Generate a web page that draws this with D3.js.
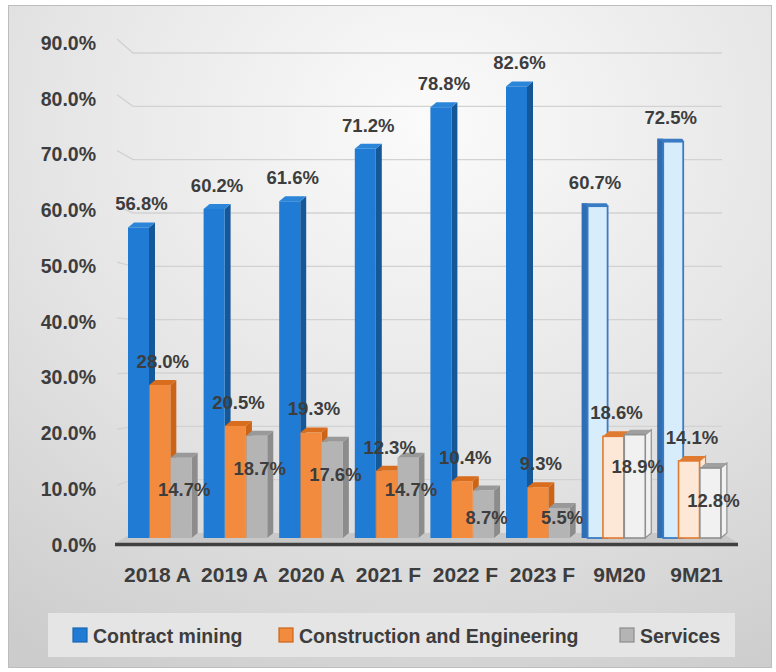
<!DOCTYPE html>
<html>
<head>
<meta charset="utf-8">
<script src="https://cdn.jsdelivr.net/npm/d3@7"></script>
<style>
  html, body { margin: 0; padding: 0; background: #ffffff; }
  svg { display: block; }
  text { font-family: "Liberation Sans", Arial, sans-serif; font-weight: bold; fill: #3d3d3d; }
</style>
</head>
<body>
<svg id="chart" width="776" height="672"></svg>
<script>
// ---- data ----
const categories = ["2018 A", "2019 A", "2020 A", "2021 F", "2022 F", "2023 F", "9M20", "9M21"];
const seriesNames = ["Contract mining", "Construction and Engineering", "Services"];
const contractMining = [56.8, 60.2, 61.6, 71.2, 78.8, 82.6, 60.7, 72.5];
const constructionEngineering = [28.0, 20.5, 19.3, 12.3, 10.4, 9.3, 18.6, 14.1];
const services = [14.7, 18.7, 17.6, 14.7, 8.7, 5.5, 18.9, 12.8];
const yTickValues = [0, 10, 20, 30, 40, 50, 60, 70, 80, 90];
const interimCategories = ["9M20", "9M21"];

// ---- styles ----
const solid = {
  "Contract mining": { front: "#1f7bd3", side: "#15589a", top: "#2b86da" },
  "Construction and Engineering": { front: "#f28b3e", side: "#cc6418", top: "#d86d1e" },
  "Services": { front: "#b4b4b4", side: "#8c8c8c", top: "#999999" }
};
const light = {
  "Contract mining": { front: "#d8edfc", side: "#2f6db5", top: "#3a7cc4", stroke: "#3a7cc4" },
  "Construction and Engineering": { front: "#fde8d8", side: "#e07a30", top: "#e07a30", stroke: "#e07a30" },
  "Services": { front: "#f1f1f1", side: "#9a9a9a", top: "#a0a0a0", stroke: "#909090" }
};

const svg = d3.select("#chart");
const defs = svg.append("defs");
const grad = defs.append("radialGradient").attr("id", "bg")
  .attr("cx", "55%").attr("cy", "18%").attr("r", "95%");
grad.append("stop").attr("offset", "0%").attr("stop-color", "#fbfbfb");
grad.append("stop").attr("offset", "55%").attr("stop-color", "#e4e4e4");
grad.append("stop").attr("offset", "100%").attr("stop-color", "#cccccc");

// frame
svg.append("rect").attr("x", 8.5).attr("y", 5.5).attr("width", 763).attr("height", 662)
  .attr("fill", "url(#bg)").attr("stroke", "#bdbdbd").attr("stroke-width", 1);

// ---- scales ----
const xBar = d3.scaleBand().domain(categories).range([128, 732.8]).padding(0);
const xSeries = d3.scaleBand().domain(seriesNames).range([0, 64]).padding(0);
const xLabel = d3.scaleBand().domain(categories).range([119, 735]).padding(0);
const yBar = d3.scaleLinear().domain([0, 90]).range([538, 46]);
const yAxisLbl = d3.scaleLinear().domain([0, 90]).range([545, 43]);
const yWall = d3.scaleLinear().domain([0, 90]).range([533, 53]);

const barW = 21, dx = 6, dy = 5;

// gridlines (back wall + side wall slant)
const grid = svg.append("g");
yTickValues.filter(v => v > 0).forEach(v => {
  grid.append("path")
    .attr("d", d3.line()([[117, yAxisLbl(v) - 4], [133, yWall(v)], [722, yWall(v)]]))
    .attr("fill", "none").attr("stroke", "#d2d2d2").attr("stroke-width", 1.4);
});

// floor
svg.append("path")
  .attr("d", d3.line()([[115, 543], [738, 543], [722, yWall(0)], [133, yWall(0)]]) + "Z")
  .attr("fill", "#c8c8c8");

// y axis labels
const yAxis = svg.append("g").attr("transform", "translate(96,0)")
  .call(d3.axisLeft(yAxisLbl).tickValues(yTickValues).tickSize(0).tickPadding(0)
    .tickFormat(d => d.toFixed(1) + "%"));
yAxis.select(".domain").remove();
yAxis.selectAll("text").style("font-size", "19.5px").attr("fill", "#3d3d3d")
  .style("font-family", "'Liberation Sans', Arial, sans-serif").style("font-weight", "bold");

// bars
const seriesValues = [contractMining, constructionEngineering, services];
const bars = svg.append("g");
const labels = [];
categories.forEach((cat, i) => {
  const isInterim = interimCategories.includes(cat);
  seriesNames.forEach((s, si) => {
    const v = seriesValues[si][i];
    const x = xBar(cat) + xSeries(s);
    const top = yBar(v), bottom = yBar(0);
    const g = bars.append("g");
    if (isInterim && si === 0) {
      const c = light[s];
      g.append("rect").attr("x", x).attr("y", top - dy + 2).attr("width", 6)
        .attr("height", bottom - top + dy - 2).attr("fill", c.side);
      g.append("path").attr("d", d3.line()([[x, top - dy + 2], [x + barW + dx - 2, top - dy + 2], [x + barW + dx, top], [x + 6, top]]) + "Z")
        .attr("fill", c.top);
      g.append("rect").attr("x", x + 6).attr("y", top).attr("width", barW + dx - 7)
        .attr("height", bottom - top).attr("fill", c.front).attr("stroke", c.stroke).attr("stroke-width", 1.8);
    } else {
      const c = isInterim ? light[s] : solid[s];
      g.append("path").attr("d", d3.line()([[x + barW, top], [x + barW + dx, top - dy], [x + barW + dx, bottom - dy], [x + barW, bottom]]) + "Z")
        .attr("fill", isInterim ? c.front : c.side)
        .attr("stroke", isInterim ? c.stroke : "none").attr("stroke-width", 1.2);
      g.append("path").attr("d", d3.line()([[x, top], [x + dx, top - dy], [x + barW + dx, top - dy], [x + barW, top]]) + "Z")
        .attr("fill", c.top);
      g.append("rect").attr("x", x).attr("y", top).attr("width", barW)
        .attr("height", bottom - top).attr("fill", c.front)
        .attr("stroke", isInterim ? c.stroke : "none").attr("stroke-width", 1.6);
    }
    const cx = x + barW / 2 + dx / 2;
    let cy;
    if (si < 2) cy = top - 24;
    else cy = Math.min(top + 32, 517);
    labels.push({ x: cx, y: cy + 6.8, t: v.toFixed(1) + "%" });
  });
});

// axis line
svg.append("line").attr("x1", 115).attr("x2", 738).attr("y1", 544.5).attr("y2", 544.5)
  .attr("stroke", "#404040").attr("stroke-width", 3.5);

// data labels
svg.append("g").selectAll("text").data(labels).join("text")
  .attr("x", d => d.x).attr("y", d => d.y).attr("text-anchor", "middle")
  .style("font-size", "18.5px").text(d => d.t);

// category labels
const xAxis = svg.append("g").attr("transform", "translate(0,567)")
  .call(d3.axisBottom(xLabel).tickSize(0).tickPadding(0));
xAxis.select(".domain").remove();
xAxis.selectAll("text").style("font-size", "21px").attr("fill", "#3d3d3d")
  .style("font-family", "'Liberation Sans', Arial, sans-serif").style("font-weight", "bold");

// legend
const legend = svg.append("g");
legend.append("rect").attr("x", 48).attr("y", 613).attr("width", 687).attr("height", 44)
  .attr("fill", "#e5e5e5");
const legendItems = [
  { name: seriesNames[0], mx: 73, fill: solid[seriesNames[0]].front, stroke: "#1a66b0" },
  { name: seriesNames[1], mx: 279, fill: solid[seriesNames[1]].front, stroke: "#cc6418" },
  { name: seriesNames[2], mx: 620, fill: solid[seriesNames[2]].front, stroke: "#8c8c8c" }
];
legendItems.forEach(it => {
  legend.append("rect").attr("x", it.mx).attr("y", 628).attr("width", 14).attr("height", 14)
    .attr("fill", it.fill).attr("stroke", it.stroke).attr("stroke-width", 1.2);
  legend.append("text").attr("x", it.mx + 20).attr("y", 642.5)
    .style("font-size", "19.5px").text(it.name);
});
</script>
</body>
</html>
